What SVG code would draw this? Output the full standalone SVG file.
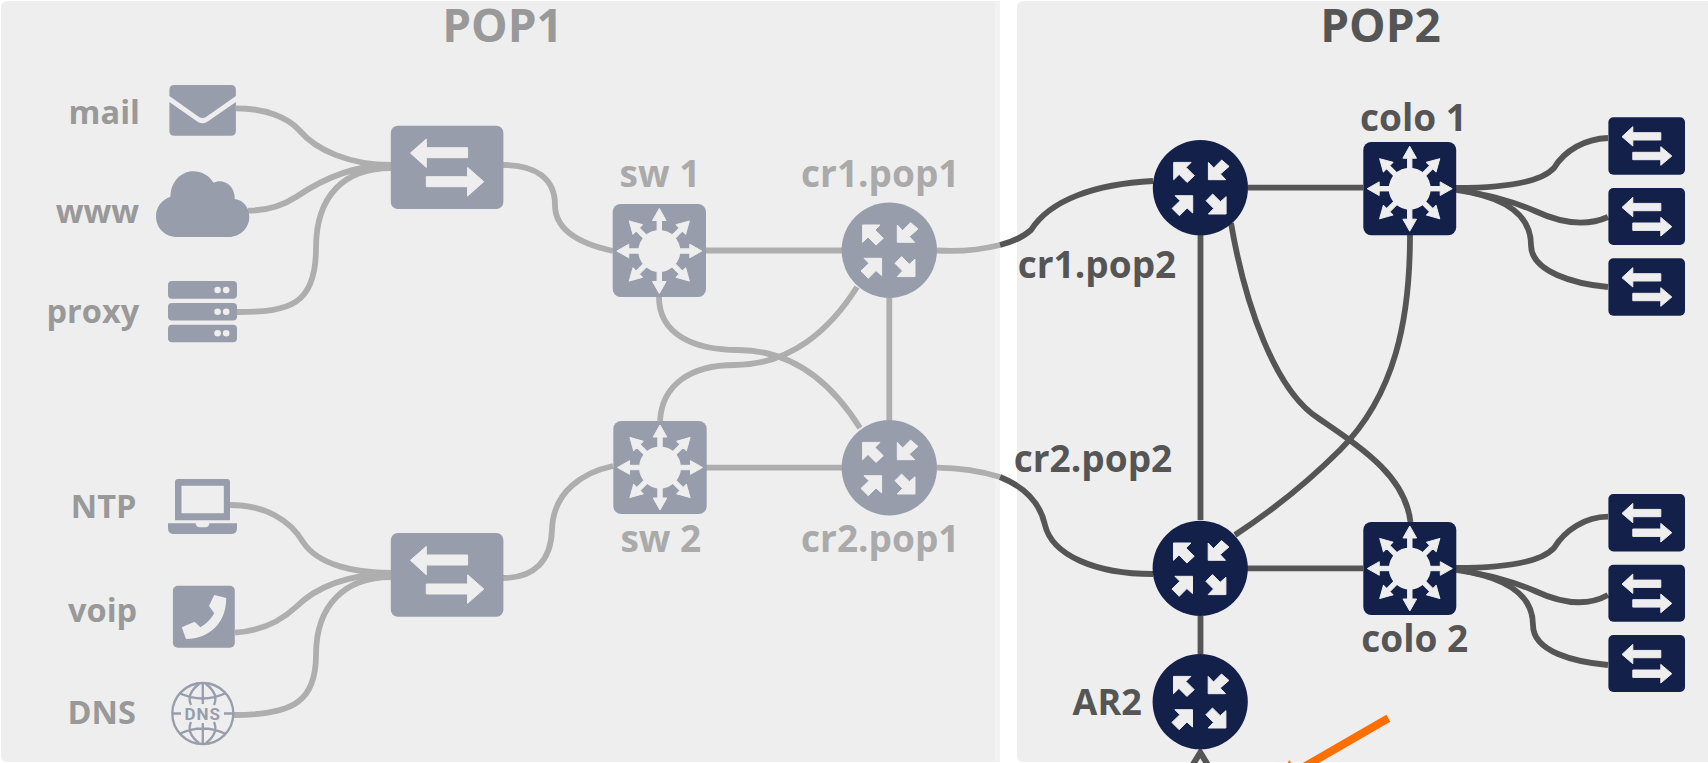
<svg xmlns="http://www.w3.org/2000/svg" width="1708" height="763" viewBox="0 0 1708 763">
<style>
text{font-family:"Open Sans","Noto Sans","DejaVu Sans",sans-serif;font-weight:700;font-size:37px}
.t1{fill:#999;text-anchor:end;font-size:32.500px}
.t2{fill:#aaa;text-anchor:middle}
.t3{fill:#555;text-anchor:middle}
.title{font-size:46px;text-anchor:middle}
.g{fill:#989dac}
.n{fill:#13204a}
.w{fill:#eee}
.ar{stroke:#eee;stroke-width:1;stroke-linejoin:round}
.cg,.cd{fill:none;stroke-width:5.800}
.cg{stroke:#aeaeae}
.cd{stroke:#555}
.globe{fill:none;stroke:#989dac;stroke-width:2.300}
</style>
<defs>
<path id="arrow" d="M-2.200 -20V-30.500H-6.800L0 -42.500L6.800 -30.500H2.200V-20Z"/>
<g id="hub" class="w">
<circle r="21"/>
<g class="ar"><use href="#arrow"/><use href="#arrow" transform="rotate(45)"/><use href="#arrow" transform="rotate(90)"/><use href="#arrow" transform="rotate(135)"/><use href="#arrow" transform="rotate(180)"/><use href="#arrow" transform="rotate(225)"/><use href="#arrow" transform="rotate(270)"/><use href="#arrow" transform="rotate(315)"/></g>
</g>
<g id="rt" class="w ar">
<path d="M-26.700 -25.300H-9.300L-14.300 -20.300L-6 -12L-13.300 -5.300L-21.300 -13.300L-26.700 -8Z"/>
<path d="M8 -25.300V-8H25.300L20 -13.700L28.700 -21.300L21.300 -27.700L13.300 -19.700Z"/>
<path d="M-7.700 8V25.300L-13.300 20.300L-21 28L-28.300 20.700L-20.300 13L-25.300 8Z"/>
<path d="M25.700 9V26.300H8L13.300 20.700L5.700 13L12.300 6.300L20 14Z"/>
</g>
<g id="swa" class="w ar">
<path d="M19.600 27.300L35.500 13.400V22H76.800V32H35.500V41.700Z"/>
<path d="M93 56L76.800 70.300V61H35.500V51H76.800V41.700Z"/>
</g>
<g id="ssw" class="w ar">
<path d="M13.600 19.400L24.400 9.400V15.400H52.400V22.700H24.400V28.700Z"/>
<path d="M63.400 38.700L52.400 48V42.400H24.400V35H52.400V29.400Z"/>
</g>
</defs>
<rect x="1" y="1" width="999" height="761" rx="6" fill="#eee"/>
<rect x="995" y="1" width="5" height="761" fill="#f2f2f2"/>
<rect x="1017" y="1" width="700" height="761" rx="6" fill="#eee"/>

<g id="connectors">
<path class="cg" d="M236 108.300C265 108.300 288 117 300 131C316 150 350 165 391 165"/>
<path class="cg" d="M248 210.700C268 210.700 282 206 296 197C318 182 350 165 391 165"/>
<path class="cg" d="M237 312C290 312 316 305 316 248C316 195 345 168 391 168"/>
<path class="cg" d="M503 165C535 165 555 178 555 205C555 235 590 246 613 251"/>
<path class="cg" d="M706 250.500H842"/>
<path class="cg" d="M706 467.700H842"/>
<path class="cg" d="M889.300 298V420"/>
<path class="cg" d="M659 297C659 335 695 350 738 350C790 350 830 380 860 428"/>
<path class="cg" d="M660 421C662 385 690 365 735 365C790 365 830 330 857 287"/>
<path class="cg" d="M503 578C535 578 551 560 552 530C553 490 585 472 613 466"/>
<path class="cg" d="M230 505C265 505 290 520 303 542C318 565 355 573 391 573"/>
<path class="cg" d="M235 632.700C260 631 280 622 296 607C315 588 345 575 391 573"/>
<path class="cg" d="M234 715C295 715 316 700 316 655C316 605 345 577 391 577"/>
<path class="cg" d="M937 250.500C960 252 980 250 1000 245"/>
<path class="cg" d="M937 467.700C960 468 980 471 1000 477"/>
<path class="cd" d="M1000 245C1012 242 1022 238 1031 230C1050 200 1095 184 1153 181"/>
<path class="cd" d="M1000 477C1025 487 1040 502 1045 525C1052 555 1095 574 1153 574"/>
<path class="cd" d="M1248 187.700H1363"/>
<path class="cd" d="M1247 568.300H1363"/>
<path class="cd" d="M1200.500 235V520"/>
<path class="cd" d="M1200.500 616V654"/>
<path class="cd" d="M1231 223C1245 305 1275 390 1318 418C1360 447 1405 475 1410.500 522"/>
<path class="cd" d="M1410 235C1410 320 1395 395 1340 450C1310 480 1270 512 1235 535"/>
<path class="cd" d="M1456 188C1500 188 1540 183 1554 168C1565 150 1585 139 1608 138"/>
<path class="cd" d="M1456 189C1490 196 1510 200 1535 211C1565 225 1590 225 1608 217"/>
<path class="cd" d="M1456 190C1485 194 1531 205 1531 245C1531 272 1575 284 1608 287"/>
<path class="cd" d="M1456 568C1500 568 1540 563 1554 548C1565 530 1585 517 1608 516.700"/>
<path class="cd" d="M1456 569C1490 576 1510 580 1535 591C1565 605 1590 605 1608 595"/>
<path class="cd" d="M1456 570C1485 574 1533 585 1533 625C1533 652 1575 662 1608 665"/>
<path d="M1192 766L1200.300 752.500L1208.500 766" fill="none" stroke="#555" stroke-width="6"/>
<path d="M1388.300 718.300L1290 775" fill="none" stroke="#ff6f00" stroke-width="8"/>
<path d="M1289.300 760L1283 772H1297Z" fill="#ff6f00"/>
</g>

<text class="title" x="502.500" y="41.700" style="fill:#999">POP1</text>
<text class="title" x="1380.500" y="41.700" style="fill:#555">POP2</text>

<g id="mail"><path class="g" d="M169.400 96V90Q169.400 85 174.400 85H230.900Q235.900 85 235.900 90V96L206 117Q202.500 119 199 117Z"/><path class="g" d="M169.400 102L198 122Q202.500 124.500 207 122L235.900 102V130.700Q235.900 135.700 230.900 135.700H174.400Q169.400 135.700 169.400 130.700Z"/><text class="t1" x="140" y="124">mail</text></g>
<g id="www"><path class="g" d="M177 237C165 237 156 228 156 216C156 207 162 199.500 170.500 196.700C170.500 182 181 171.300 193 171.300C202 171.300 209.500 176 213.500 182.700C222 178 235 184 234.800 199C243 200 249.300 207 249.300 217C249.300 228 240 237 229 237Z"/><text class="t1" x="139.200" y="222.700">www</text></g>
<g id="proxy"><rect class="g" x="168" y="281" width="69" height="17.700" rx="4"/><rect class="g" x="168" y="303" width="69" height="17.500" rx="4"/><rect class="g" x="168" y="324.700" width="69" height="17.500" rx="4"/>
<g class="w"><circle cx="217.600" cy="290" r="3.300"/><circle cx="226.200" cy="290" r="3.300"/><circle cx="217.600" cy="311.700" r="3.300"/><circle cx="226.200" cy="311.700" r="3.300"/><circle cx="217.600" cy="333.300" r="3.300"/><circle cx="226.200" cy="333.300" r="3.300"/></g><text class="t1" x="139.200" y="323.300">proxy</text></g>
<g id="switch-a"><rect class="g" x="390.800" y="125.700" width="112.600" height="83.300" rx="7"/><use href="#swa" x="390.800" y="125.700"/></g>
<g id="sw1"><rect class="g" x="612.700" y="204" width="93.300" height="93" rx="8"/><use href="#hub" x="659.300" y="251"/><text class="t2" x="660" y="186.700">sw 1</text></g>
<g id="cr1-pop1"><circle class="g" cx="889.300" cy="250.300" r="47.700"/><use href="#rt" x="889.300" y="250.300"/><text class="t2" x="880.300" y="186.700">cr1.pop1</text></g>
<g id="sw2"><rect class="g" x="613.300" y="421" width="93.400" height="93" rx="8"/><use href="#hub" x="660" y="467.500"/><text class="t2" x="660.800" y="551.700">sw 2</text></g>
<g id="cr2-pop1"><circle class="g" cx="889.300" cy="467.700" r="47.700"/><use href="#rt" x="889.300" y="467.700"/><text class="t2" x="880.300" y="551.700">cr2.pop1</text></g>
<g id="ntp"><path class="g" fill-rule="evenodd" d="M175 482Q175 479 178 479H227Q230 479 230 482V520.300H175ZM181.500 485.700V513.300H223.800V485.700Z"/><path class="g" d="M168 523.300H195.600Q196 527.300 200 527.300H205Q209 527.300 209.400 523.300H237V528Q237 534 231 534H174Q168 534 168 528Z"/><text class="t1" x="136.500" y="518.300">NTP</text></g>
<g id="voip"><rect class="g" x="172.900" y="585.700" width="61.900" height="62" rx="5"/><path class="w" d="M214.200 595L226.200 598C226.500 622 210 639 186 639L181.800 627.300L194.600 621.700L200.400 627.300C206 624 211 619 214.200 613.300L209 606Z"/><text class="t1" x="137.200" y="622">voip</text></g>
<g id="dns"><circle class="globe" cx="202.800" cy="713.500" r="30.500"/><path class="globe" d="M172 713.500H181M224 713.500H233M202.800 683V704M202.800 723V744M191 705Q186 694 199 684M214 705Q219 694 206 684M179 693Q202.800 704 226 693M191 722Q186 733 199 743M214 722Q219 733 206 743M179 734Q202.800 723 226 734"/><text x="202.800" y="720" style="font-family:Roboto,'Open Sans',sans-serif;font-size:17px;letter-spacing:1px;text-anchor:middle;fill:#989dac">DNS</text><text class="t1" x="135.800" y="724.300">DNS</text></g>
<g id="switch-b"><rect class="g" x="390.800" y="533" width="112.600" height="83.700" rx="7"/><use href="#swa" x="390.800" y="533"/></g>

<g id="cr1-pop2"><circle class="n" cx="1200.400" cy="187.700" r="47.600"/><use href="#rt" x="1200.400" y="187.700"/><text class="t3" x="1097" y="278.300">cr1.pop2</text></g>
<g id="colo1"><rect class="n" x="1363.300" y="142" width="92.900" height="93.300" rx="8"/><use href="#hub" x="1409.700" y="188.700"/><text class="t3" x="1413.500" y="130.700">colo 1</text></g>
<g id="cr2-pop2"><circle class="n" cx="1200.200" cy="568.300" r="47.600"/><use href="#rt" x="1200.200" y="568.300"/><text class="t3" x="1093" y="471.700">cr2.pop2</text></g>
<g id="colo2"><rect class="n" x="1363.300" y="522" width="93" height="93" rx="8"/><use href="#hub" x="1409.800" y="568.500"/><text class="t3" x="1414.800" y="651.700">colo 2</text></g>
<g id="ar2"><circle class="n" cx="1200.200" cy="701.700" r="47.600"/><use href="#rt" x="1200.200" y="701.700"/><text class="t3" x="1107.200" y="715" style="font-size:36px">AR2</text></g>
<g id="s1"><rect class="n" x="1608.400" y="117.300" width="76.600" height="57.400" rx="5"/><use href="#ssw" x="1608.400" y="117.300"/></g>
<g id="s2"><rect class="n" x="1608.400" y="188" width="76.600" height="57" rx="5"/><use href="#ssw" x="1608.400" y="188"/></g>
<g id="s3"><rect class="n" x="1608.400" y="258.300" width="76.600" height="57.400" rx="5"/><use href="#ssw" x="1608.400" y="258.300"/></g>
<g id="s4"><rect class="n" x="1608.400" y="494" width="76.600" height="57.400" rx="5"/><use href="#ssw" x="1608.400" y="494"/></g>
<g id="s5"><rect class="n" x="1608.400" y="564.700" width="76.600" height="57" rx="5"/><use href="#ssw" x="1608.400" y="564.700"/></g>
<g id="s6"><rect class="n" x="1608.400" y="635" width="76.600" height="57" rx="5"/><use href="#ssw" x="1608.400" y="635"/></g>
</svg>
